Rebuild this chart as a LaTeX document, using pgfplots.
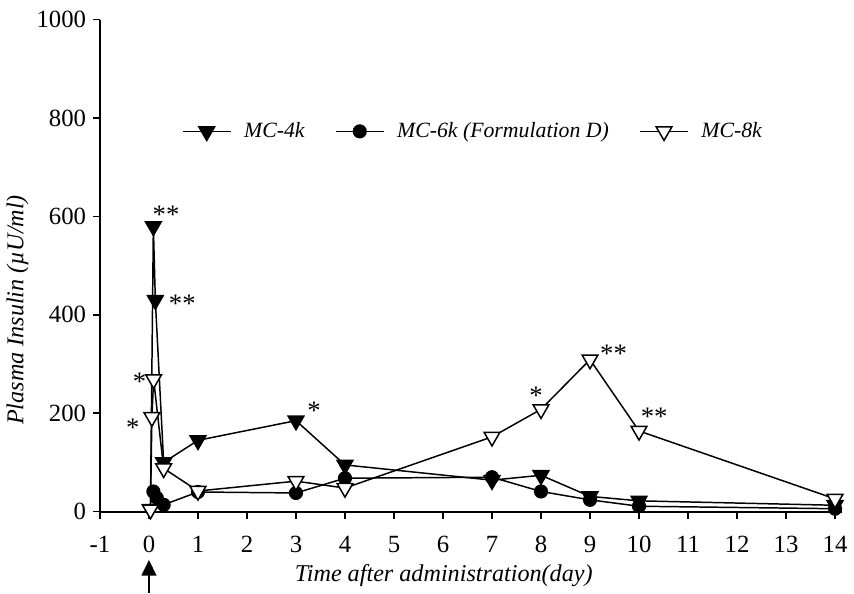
\documentclass[border=0pt]{standalone}
\usepackage{fontspec}
\setmainfont{Liberation Serif}
\usepackage{pgfplots}
\pgfplotsset{compat=1.18}
\usetikzlibrary{arrows.meta}

% MC-4k (filled down triangles)
\pgfplotstableread{
t    y
0.03 5
0.09 580
0.13 430
0.30 100
1    145
3    185
4    95
7    64
8    74
9    31
10   22
14   13
}\mcfour
% MC-6k, Formulation D (filled circles)
\pgfplotstableread{
t    y
0.09 41
0.16 28
0.30 14
1    40
3    38
4    68
7    70
8    41
9    24
10   11
14   6
}\mcsix
% MC-8k (open down triangles)
\pgfplotstableread{
t     y
0.03  4
0.06  192
0.095 269
0.30  88
1     42
3     62
4     48
7     152
8     208
9     309
10    164
14    26
}\mceight

\begin{document}
\begin{tikzpicture}
\begin{axis}[
  scale only axis,
  width=375pt, height=248.5pt,
  xmin=-1, xmax=14.15,
  ymin=0, ymax=1000,
  axis x line*=bottom, axis y line*=left,
  axis line style={line width=1pt},
  every axis plot/.append style={line width=0.75pt},
  xtick={-1,0,...,14},
  ytick={0,200,...,1000},
  tick align=outside,
  major tick length=3.5pt,
  tick style={line width=0.8pt, black},
  /pgf/number format/assume math mode=true,
  /pgf/number format/1000 sep={},
  ticklabel style={font=\fontsize{12.5}{14}\selectfont},
  xticklabel style={yshift=-5.5pt},
  xlabel={\itshape Time after administration(day)},
  ylabel={\itshape Plasma Insulin (µU/ml)},
  label style={font=\fontsize{12.2}{14}\selectfont},
  xlabel style={at={(axis description cs:0.463,-0.13)}, anchor=center},
  ylabel style={at={(axis description cs:-0.111,0.41)}, anchor=center},
  clip=false,
  legend columns=3,
  legend style={draw=none, fill=none, at={(axis cs:0.55,773)}, anchor=west,
    font=\fontsize{11}{13}\selectfont\itshape,
    /tikz/every odd column/.append style={column sep=4.5pt},
    /tikz/every even column/.append style={column sep=13.5pt}},
  legend image code/.code={\draw[mark repeat=2, mark phase=2, #1]
    plot coordinates {(0pt,0pt) (12pt,0pt) (24pt,0pt)};},
]
\addplot[black, mark=triangle*, mark size=4.6pt, mark options={rotate=180, fill=black}]
  table[x=t, y=y] {\mcfour};
\addlegendentry{MC-4k}
\addplot[black, mark=*, mark size=3.2pt, mark options={fill=black}]
  table[x=t, y=y] {\mcsix};
\addlegendentry{MC-6k (Formulation D)\hspace{26pt}}
\addplot[black, mark=triangle*, mark size=4.6pt, mark options={rotate=180, fill=white}]
  table[x=t, y=y] {\mceight};
\addlegendentry{MC-8k}

% significance marks
\begin{scope}[every node/.style={font=\fontsize{13.5}{15}\selectfont, inner sep=0pt, yshift=-1.8pt}]
\node at (axis cs:0.35,611) {**};
\node at (axis cs:0.68,429) {**};
\node at (axis cs:-0.19,272) {*};
\node at (axis cs:-0.33,178) {*};
\node at (axis cs:3.37,212) {*};
\node at (axis cs:7.90,243) {*};
\node at (axis cs:9.48,329) {**};
\node at (axis cs:10.31,200) {**};
\end{scope}

% dosing arrow
\draw[line width=0.9pt, -{Triangle[width=7.5pt, length=8pt]}]
  (axis cs:0,-165) -- (axis cs:0,-98);

% page frame
\path (axis cs:-3.019,-165) rectangle (axis cs:14.223,1040);
\end{axis}
\end{tikzpicture}
\end{document}
